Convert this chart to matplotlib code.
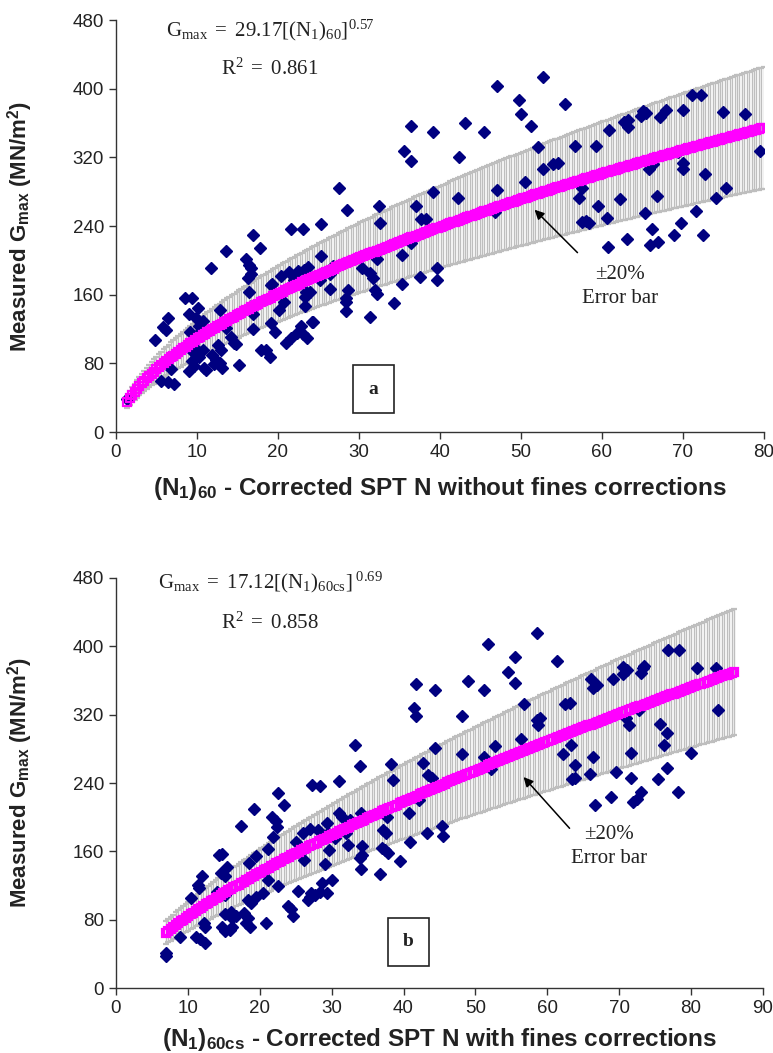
import numpy as np
import matplotlib.pyplot as plt

plt.rcParams['font.family'] = ['Liberation Sans', 'DejaVu Sans']
plt.rcParams['mathtext.fontset'] = 'custom'
plt.rcParams['mathtext.rm'] = 'Liberation Serif'
plt.rcParams['mathtext.it'] = 'Liberation Serif:italic'
plt.rcParams['mathtext.bf'] = 'Liberation Serif:bold'
plt.rcParams['mathtext.sf'] = 'Liberation Sans:bold'

# panel a: (N1)60 vs measured Gmax
n60 = [1.4, 4.8, 6.4, 5.8, 6.2, 5.6, 6.4, 7.2, 6.8, 8.5, 9.4, 10.1, 9.0, 9.9, 10.7, 9.1, 10.3, 10.1,
       9.5, 9.9, 10.8, 9.4, 9.7, 9.0, 10.3, 10.9, 11.1, 11.9, 12.3, 12.1, 12.8, 13.1, 12.6, 13.0,
       11.7, 13.6, 12.8, 13.6, 14.2, 14.6, 14.8, 15.2, 16.9, 17.8, 16.0, 16.4, 16.7, 16.3, 16.7,
       16.4, 16.7, 16.9, 16.9, 17.9, 18.5, 19.0, 19.1, 19.3, 19.2, 19.6, 20.1, 20.8, 20.4, 21.4,
       22.0, 22.5, 23.2, 23.7, 23.7, 23.5, 23.3, 24.2, 21.6, 23.1, 21.0, 21.6, 22.4, 23.1, 23.6,
       22.8, 25.3, 27.5, 28.5, 32.5, 32.6, 36.5, 35.6, 36.5, 39.2, 43.1, 45.4, 42.4, 39.2, 37.1,
       37.7, 38.3, 42.3, 47.0, 47.0, 25.3, 25.2, 26.4, 26.8, 26.4, 24.0, 23.3, 28.6, 28.4, 28.4,
       28.4, 30.4, 31.4, 31.7, 32.0, 32.2, 32.2, 31.4, 34.3, 35.3, 35.3, 37.6, 39.6, 39.7, 36.5,
       24.3, 46.8, 52.8, 49.8, 50.0, 51.3, 55.5, 52.1, 52.8, 54.0, 54.6, 50.5, 56.7, 59.3, 60.9,
       62.7, 63.2, 63.2, 64.8, 65.4, 65.1, 67.2, 67.9, 70.0, 71.1, 72.3, 75.0, 77.7, 79.5, 72.8,
       70.0, 70.0, 65.8, 66.3, 66.8, 74.1, 75.3, 71.6, 69.8, 72.5, 68.9, 65.3, 66.2, 66.0, 66.9,
       63.1, 60.8, 60.6, 57.5, 58.0, 58.4, 62.2, 59.5, 57.5, 57.2, 69.4]
g_a = [38, 107, 133, 122, 119, 60, 58, 56, 74, 156, 156, 144, 137, 133, 129, 117, 123, 114,
       93, 97, 96, 83, 77, 71, 87, 75, 72, 90, 84, 79, 81, 75, 101, 95,
       191, 211, 142, 121, 111, 104, 102, 78, 229, 214, 202, 195, 191, 180, 184,
       163, 147, 137, 120, 95, 96, 88, 171, 173, 127, 117, 142, 152, 182, 186,
       177, 188, 189, 192, 180, 163, 147, 128, 237, 236, 104, 110, 115, 114, 110,
       124, 242, 284, 259, 263, 243, 356, 327, 316, 349, 360, 349, 320, 280, 263,
       248, 248, 273, 282, 403, 205, 177, 184, 194, 167, 163, 157, 166, 156, 151,
       141, 191, 185, 179, 165, 161, 202, 134, 150, 206, 173, 181, 191, 177, 220,
       128, 256, 414, 387, 370, 357, 382, 332, 306, 312, 313, 291, 333, 333, 352,
       361, 363, 355, 368, 372, 374, 367, 375, 375, 393, 393, 373, 371, 327, 301,
       314, 307, 306, 312, 275, 273, 284, 258, 244, 230, 230, 255, 237, 218, 221,
       225, 216, 249, 245, 246, 244, 271, 263, 284, 273, 326]

# panel b: (N1)60cs vs measured Gmax
n60cs = [6.9, 6.9, 8.9, 11.1, 11.7, 12.4, 10.4, 11.4, 12.0, 11.6, 12.2, 12.4, 14.4, 14.7, 14.6,
         15.1, 15.4, 14.1, 14.5, 15.2, 14.8, 15.2, 15.8, 16.2, 15.1, 16.0, 16.2, 16.7, 17.4, 19.2,
         17.8, 18.3, 18.1, 18.6, 18.8, 18.3, 19.5, 20.4, 19.5, 18.5, 21.2, 21.7, 22.2, 22.4, 21.8,
         22.5, 23.4, 21.2, 22.5, 20.9, 23.9, 24.4, 24.6, 25.3, 25.0, 26.1, 26.0, 26.1, 26.7, 27.1,
         27.3, 51.8, 41.7, 44.4, 49.0, 51.2, 41.4, 41.7, 48.1, 33.2, 34.0, 28.4, 31.0, 38.2, 38.5,
         44.4, 42.7, 43.4, 43.9, 48.2, 52.7, 51.2, 52.2, 42.2, 40.7, 37.7, 37.2, 37.6, 43.2, 45.3,
         45.5, 40.9, 37.0, 37.4, 37.8, 39.5, 36.7, 34.2, 34.2, 34.0, 34.1, 32.3, 31.0, 31.4, 29.3,
         28.1, 27.0, 29.5, 30.5, 29.7, 32.0, 32.5, 34.1, 29.1, 30.0, 28.6, 28.4, 29.3, 27.7, 27.0,
         58.5, 55.5, 61.3, 54.5, 55.5, 56.7, 62.4, 63.1, 58.6, 59.0, 58.7, 66.1, 66.9, 66.4, 69.1,
         70.5, 70.5, 71.1, 73.0, 73.3, 73.5, 76.8, 78.3, 80.8, 83.5, 83.7, 72.7, 70.9, 71.4, 75.7,
         76.6, 76.2, 80.0, 71.7, 76.6, 75.4, 78.2, 73.0, 72.5, 71.9, 71.7, 68.8, 66.6, 69.5, 65.9,
         63.4, 63.9, 63.8, 66.3, 62.2, 63.3, 56.3, 52.2]
g_b = [37, 41, 60, 60, 57, 53, 105, 121, 131, 117, 76, 72, 156, 157, 135,
       131, 142, 113, 109, 109, 72, 67, 68, 72, 87, 89, 82, 84, 190, 210,
       88, 82, 76, 72, 99, 103, 107, 111, 154, 146, 163, 200, 195, 189, 177,
       228, 214, 127, 119, 76, 96, 92, 84, 114, 171, 163, 181, 150, 103, 111,
       238, 403, 356, 349, 359, 349, 328, 318, 319, 285, 260, 236, 242, 262, 244,
       281, 264, 249, 246, 274, 283, 270, 261, 220, 205, 200, 185, 181, 182, 190,
       178, 171, 164, 161, 158, 149, 133, 166, 156, 152, 139, 167, 205, 200, 193,
       185, 186, 181, 176, 162, 181, 197, 205, 145, 126, 123, 113, 111, 109, 107,
       416, 388, 383, 370, 357, 333, 333, 334, 314, 316, 308, 362, 355, 351, 362,
       376, 368, 372, 369, 375, 377, 396, 396, 375, 375, 326, 326, 316, 308, 309,
       299, 284, 275, 275, 258, 245, 230, 230, 221, 218, 246, 224, 214, 253, 250,
       245, 246, 261, 271, 274, 285, 291, 256]

# fitted power laws shown on the chart: Gmax = a * N^b
fit_a = (29.17, 0.57)
fit_b = (17.12, 0.69)
range_a = (1.4, 80.0)
range_b = (6.9, 86.3)

panels = [
    dict(x=n60, y=g_a, fit=fit_a, rng=range_a, step=0.3, xmax=80,
         xlabel=r'(N$_\mathsf{1}$)$_\mathsf{60}$ - Corrected SPT N without fines corrections',
         eq=r'$\mathrm{G_{max}\ =\ 29.17[(N_1)_{60}]^{0.57}}$', r2=r'$\mathrm{R^2\ =\ 0.861}$',
         tag='a', tagpos=(31.8, 50), tip=(51.7, 259), tail=(57.0, 209), txt=(62.3, 184, 155),
         xlabely=-0.105, eqy=(0.975, 0.883)),
    dict(x=n60cs, y=g_b, fit=fit_b, rng=range_b, step=0.35, xmax=90,
         xlabel=r'(N$_\mathsf{1}$)$_\mathsf{60cs}$ - Corrected SPT N with fines corrections',
         eq=r'$\mathrm{G_{max}\ =\ 17.12[(N_1)_{60cs}]^{\ 0.69}}$', r2=r'$\mathrm{R^2\ =\ 0.858}$',
         tag='b', tagpos=(40.7, 54), tip=(56.7, 247), tail=(63.1, 187), txt=(68.6, 180, 152),
         xlabely=-0.092, eqy=(0.99, 0.893)),
]

fig = plt.figure(figsize=(7.73, 10.53), dpi=100)
ax_rects = [[0.150, 0.5897, 0.838, 0.3913], [0.150, 0.0617, 0.837, 0.3894]]

for p, rect in zip(panels, ax_rects):
    ax = fig.add_axes(rect)
    a, b = p['fit']
    nn = np.arange(p['rng'][0], p['rng'][1] + 0.01, p['step'])
    gg = a * nn ** b
    ax.errorbar(nn, gg, yerr=0.2 * gg, fmt='none', ecolor='#bebebe', elinewidth=1.0,
                capsize=2.4, capthick=1.6, zorder=1)
    ax.plot(p['x'], p['y'], 'D', color='#000080', ms=6, mec='#000080', zorder=2)
    ax.plot(nn, gg, 's', mfc='none', mec='#ff00ff', ms=6, mew=1.6, zorder=3)

    ax.set_xlim(0, p['xmax'])
    ax.set_ylim(0, 480)
    ax.set_xticks(np.arange(0, p['xmax'] + 1, 10))
    ax.set_yticks(np.arange(0, 481, 80))
    for s in ['top', 'right']:
        ax.spines[s].set_visible(False)
    for s in ['left', 'bottom']:
        ax.spines[s].set_color('#333333')
        ax.spines[s].set_linewidth(1.0)
    ax.tick_params(direction='out', length=5, width=1, color='#333333',
                   labelsize=13.5, labelcolor='#222222')

    ax.set_ylabel(r'Measured G$_\mathsf{max}$ (MN/m$^\mathsf{2}$)', fontsize=16,
                  fontweight='bold', color='#222222')
    ax.yaxis.set_label_coords(-0.125, 0.5)
    ax.set_xlabel(p['xlabel'], fontsize=17.5, fontweight='bold', color='#222222')
    ax.xaxis.set_label_coords(0.5, p['xlabely'])

    ax.text(0.238, p['eqy'][0], p['eq'], transform=ax.transAxes, fontsize=15,
            ha='center', va='center', color='#222222')
    ax.text(0.238, p['eqy'][1], p['r2'], transform=ax.transAxes, fontsize=15,
            ha='center', va='center', color='#222222')

    ax.text(p['tagpos'][0], p['tagpos'][1], p['tag'], fontsize=14, fontweight='bold',
            family='Liberation Serif', ha='center', va='center', color='#222222',
            bbox=dict(boxstyle='square,pad=0.8', fc='white', ec='#222222', lw=1.2), zorder=5)

    ax.annotate('', xy=p['tip'], xytext=p['tail'],
                arrowprops=dict(arrowstyle='-|>', color='black', lw=1.1,
                                mutation_scale=14, shrinkA=0, shrinkB=0), zorder=6)
    tx, ty1, ty2 = p['txt']
    ax.text(tx, ty1, '±20%', fontsize=15, family='Liberation Serif', ha='center',
            va='center', color='#222222')
    ax.text(tx, ty2, 'Error bar', fontsize=15, family='Liberation Serif', ha='center',
            va='center', color='#222222')

fig.savefig('out.png', dpi=100)
